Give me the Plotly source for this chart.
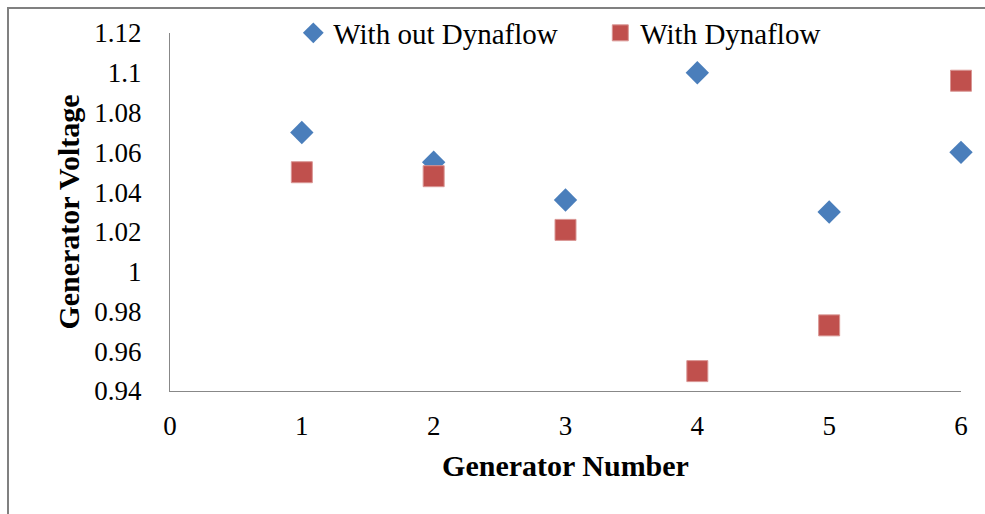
import plotly.graph_objects as go

generator_number = [1, 2, 3, 4, 5, 6]
without_dynaflow = [1.070, 1.055, 1.036, 1.100, 1.030, 1.060]
with_dynaflow = [1.050, 1.048, 1.021, 0.950, 0.973, 1.096]

y_ticks = [0.94, 0.96, 0.98, 1.00, 1.02, 1.04, 1.06, 1.08, 1.10, 1.12]
y_tick_text = ["0.94", "0.96", "0.98", "1", "1.02", "1.04", "1.06", "1.08", "1.1", "1.12"]
x_ticks = [0, 1, 2, 3, 4, 5, 6]

FONT = "Liberation Serif, Times New Roman, serif"
BLUE = "#4A7EBB"
RED = "#C0504D"
AXIS = "#888888"

fig = go.Figure()
fig.add_trace(go.Scatter(
    x=generator_number, y=without_dynaflow, mode="markers", name="With out Dynaflow",
    cliponaxis=False,
    marker=dict(symbol="diamond", size=18, color=BLUE, line=dict(width=0))))
fig.add_trace(go.Scatter(
    x=generator_number, y=with_dynaflow, mode="markers", name="With Dynaflow",
    cliponaxis=False,
    marker=dict(symbol="square", size=21, color=RED, line=dict(width=1, color="#D99694"))))

L, R, T, B = 170, 24, 33, 123
W, H = 985, 514
pw = W - L - R
ph = H - T - B

fig.update_layout(
    width=W, height=H,
    margin=dict(l=L, r=R, t=T, b=B, autoexpand=False),
    paper_bgcolor="white", plot_bgcolor="white",
    font=dict(family=FONT, color="#000000", size=27),
    showlegend=True,
    legend=dict(orientation="h", x=0.544, xanchor="center", y=1.0, yanchor="middle",
                font=dict(size=29, family=FONT), bgcolor="rgba(0,0,0,0)",
                entrywidth=262, entrywidthmode="pixels",
                itemsizing="trace", tracegroupgap=0),
    xaxis=dict(range=[0, 6], tickvals=x_ticks, showgrid=False, zeroline=False,
               showline=True, linecolor=AXIS, linewidth=1,
               ticks="outside", ticklen=11, tickcolor="rgba(0,0,0,0)",
               tickfont=dict(size=27, family=FONT),
               title=dict(text="<b>Generator Number</b>", font=dict(size=30, family=FONT), standoff=14)),
    yaxis=dict(range=[0.94, 1.12], tickvals=y_ticks, ticktext=y_tick_text, showgrid=False,
               zeroline=False, showline=True, linecolor=AXIS, linewidth=1,
               ticks="outside", ticklen=22, tickcolor="rgba(0,0,0,0)",
               tickfont=dict(size=27, family=FONT),
               title=dict(text="<b>Generator Voltage</b>", font=dict(size=30, family=FONT), standoff=5)),
)

# outer chart border
fig.add_shape(type="rect", xref="paper", yref="paper",
              x0=(8 - L) / pw, x1=(W + 10 - L) / pw,
              y0=-(H + 10 - T - ph) / ph, y1=(H - 8 - B) / ph,
              line=dict(color="#808080", width=2), fillcolor="rgba(0,0,0,0)", layer="below")

fig.write_html("out.html")
